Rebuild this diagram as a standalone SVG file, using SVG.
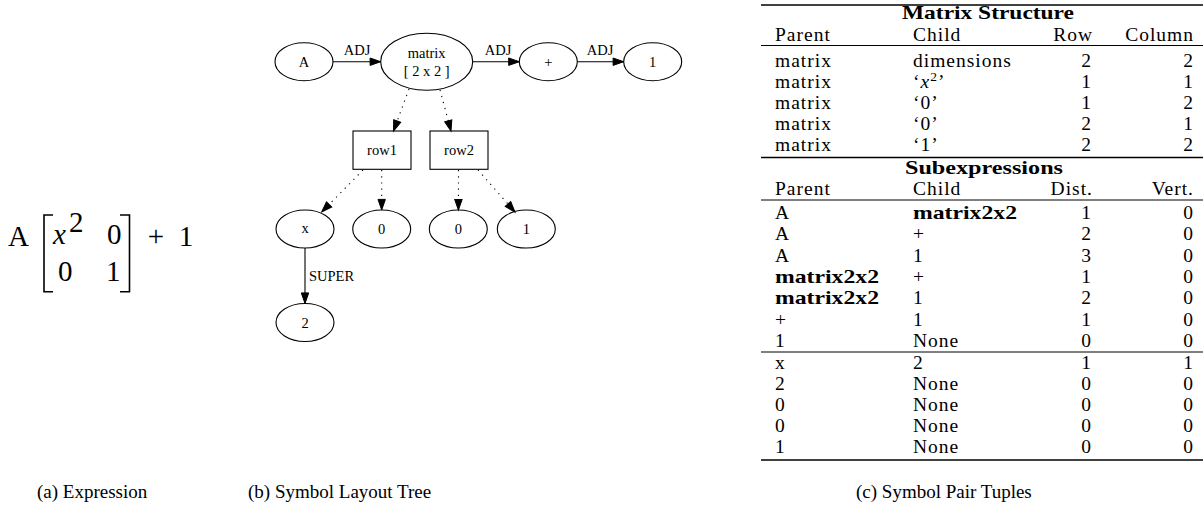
<svg xmlns="http://www.w3.org/2000/svg" width="1203" height="516" viewBox="0 0 1203 516">
  <defs>
    <marker id="arrow" markerUnits="userSpaceOnUse" markerWidth="12" markerHeight="10" refX="10.6" refY="5" orient="auto" overflow="visible">
      <path d="M0,1.3 L10.6,5 L0,8.7 Z" fill="#000" stroke="#000" stroke-width="1"/>
    </marker>
    <style>
      .shape { fill: none; stroke: #000; stroke-width: 1.1; }
      .lbl { font-family: "Liberation Serif", "Times New Roman", serif; font-size: 14.5px; fill: #000; }
      .mid { text-anchor: middle; }
      .end { text-anchor: end; }
      .edge { stroke: #000; stroke-width: 1.1; fill: none; }
      .dot { stroke-dasharray: 1.2 5; }
      .math { font-family: "Liberation Serif", "Times New Roman", serif; font-size: 29px; fill: #000; }
      .tab { font-family: "Liberation Serif", "Times New Roman", serif; font-size: 19.5px; letter-spacing: 1px; fill: #000; }
      .bold { font-weight: bold; letter-spacing: 0; }
      .cap { font-family: "Liberation Serif", "Times New Roman", serif; font-size: 19px; fill: #000; }
      .thick { stroke: #000; stroke-width: 1.7; }
      .thin { stroke: #000; stroke-width: 1; }
    </style>
  </defs>

  <!-- (a) the expression -->
  <g id="expression">
    <text class="math" x="8" y="246">A</text>
    <path d="M53,215 H44 V291.7 H53" fill="none" stroke="#000" stroke-width="1.6"/>
    <text class="math" x="53" y="244" font-style="italic">x</text>
    <text class="math" x="69" y="232" font-size="20">2</text>
    <text class="math" x="107" y="244">0</text>
    <text class="math" x="58" y="281">0</text>
    <text class="math" x="106" y="281">1</text>
    <path d="M120,215 H129.5 V291.7 H120" fill="none" stroke="#000" stroke-width="1.6"/>
    <text class="math mid" x="156" y="246">+</text>
    <text class="math mid" x="186" y="246">1</text>
  </g>

  <!-- (b) symbol layout tree: connectors -->
  <g id="connectors">
    <line class="edge" x1="333" y1="61.7" x2="380.7" y2="61.7" marker-end="url(#arrow)"/>
    <text class="lbl mid" x="357" y="54.5">ADJ</text>
    <line class="edge" x1="472.7" y1="61.7" x2="519.3" y2="61.7" marker-end="url(#arrow)"/>
    <text class="lbl mid" x="498" y="54.5">ADJ</text>
    <line class="edge" x1="577.3" y1="61.7" x2="623.7" y2="61.7" marker-end="url(#arrow)"/>
    <text class="lbl mid" x="600" y="54.5">ADJ</text>

    <line class="edge dot" x1="409" y1="89" x2="393.5" y2="131" marker-end="url(#arrow)"/>
    <line class="edge dot" x1="440" y1="90" x2="451" y2="131" marker-end="url(#arrow)"/>

    <line class="edge dot" x1="363" y1="170" x2="321.7" y2="212" marker-end="url(#arrow)"/>
    <line class="edge dot" x1="381.7" y1="170" x2="381.7" y2="210" marker-end="url(#arrow)"/>
    <line class="edge dot" x1="458.5" y1="170" x2="458.4" y2="210" marker-end="url(#arrow)"/>
    <line class="edge dot" x1="478" y1="170" x2="515" y2="212" marker-end="url(#arrow)"/>

    <line class="edge" x1="305" y1="248" x2="305" y2="303.5" marker-end="url(#arrow)"/>
    <text class="lbl" x="309" y="281">SUPER</text>
  </g>

  <!-- (b) symbol layout tree: nodes -->
  <g id="node-A">
    <ellipse class="shape" cx="304" cy="61.7" rx="29" ry="19"/>
    <text class="lbl mid" x="304" y="66.5">A</text>
  </g>
  <g id="node-matrix">
    <ellipse class="shape" cx="426.7" cy="61.7" rx="46" ry="28.5"/>
    <text class="lbl mid" x="426.7" y="57.5">matrix</text>
    <text class="lbl mid" x="426.7" y="76">[ 2 x 2 ]</text>
  </g>
  <g id="node-plus">
    <ellipse class="shape" cx="548.3" cy="61.7" rx="29" ry="19"/>
    <text class="lbl mid" x="548.3" y="66.5">+</text>
  </g>
  <g id="node-one">
    <ellipse class="shape" cx="652.7" cy="61.7" rx="29" ry="19"/>
    <text class="lbl mid" x="652.7" y="66.5">1</text>
  </g>
  <g id="node-row1">
    <rect class="shape" x="353" y="131" width="58" height="38.3"/>
    <text class="lbl mid" x="382" y="155">row1</text>
  </g>
  <g id="node-row2">
    <rect class="shape" x="430" y="131" width="58" height="38.3"/>
    <text class="lbl mid" x="459" y="155">row2</text>
  </g>
  <g id="node-x">
    <ellipse class="shape" cx="305" cy="229" rx="29" ry="19"/>
    <text class="lbl mid" x="305" y="233">x</text>
  </g>
  <g id="node-zero-a">
    <ellipse class="shape" cx="381.7" cy="229" rx="29" ry="19"/>
    <text class="lbl mid" x="381.7" y="234">0</text>
  </g>
  <g id="node-zero-b">
    <ellipse class="shape" cx="458.3" cy="229" rx="29" ry="19"/>
    <text class="lbl mid" x="458.3" y="234">0</text>
  </g>
  <g id="node-one-b">
    <ellipse class="shape" cx="526.3" cy="229" rx="29" ry="19"/>
    <text class="lbl mid" x="526.3" y="234">1</text>
  </g>
  <g id="node-two">
    <ellipse class="shape" cx="305" cy="322.5" rx="29" ry="19"/>
    <text class="lbl mid" x="305" y="327.5">2</text>
  </g>

  <!-- (c) symbol pair tuples table -->
  <g id="table">
    <line class="thick" x1="761" y1="5" x2="1203" y2="5"/>
    <text class="tab bold" x="902" y="18.5" textLength="172" lengthAdjust="spacingAndGlyphs">Matrix Structure</text>
    <text class="tab" x="775" y="40.5">Parent</text>
    <text class="tab" x="913" y="40.5">Child</text>
    <text class="tab end" x="1093" y="40.5">Row</text>
    <text class="tab end" x="1194" y="40.5">Column</text>
    <line class="thin" x1="761" y1="45.5" x2="1203" y2="45.5"/>

    <text class="tab" x="775" y="67">matrix</text><text class="tab" x="913" y="67">dimensions</text><text class="tab end" x="1092" y="67">2</text><text class="tab end" x="1194" y="67">2</text>
    <text class="tab" x="775" y="88">matrix</text><text class="tab" x="913" y="88">‘<tspan font-style="italic">x</tspan><tspan dy="-7" font-size="13.5">2</tspan><tspan dy="7">’</tspan></text><text class="tab end" x="1092" y="88">1</text><text class="tab end" x="1194" y="88">1</text>
    <text class="tab" x="775" y="109">matrix</text><text class="tab" x="913" y="109">‘0’</text><text class="tab end" x="1092" y="109">1</text><text class="tab end" x="1194" y="109">2</text>
    <text class="tab" x="775" y="130">matrix</text><text class="tab" x="913" y="130">‘0’</text><text class="tab end" x="1092" y="130">2</text><text class="tab end" x="1194" y="130">1</text>
    <text class="tab" x="775" y="151">matrix</text><text class="tab" x="913" y="151">‘1’</text><text class="tab end" x="1092" y="151">2</text><text class="tab end" x="1194" y="151">2</text>
    <line class="thick" x1="761" y1="157.5" x2="1203" y2="157.5"/>

    <text class="tab bold" x="905" y="174" textLength="158" lengthAdjust="spacingAndGlyphs">Subexpressions</text>
    <text class="tab" x="775" y="195">Parent</text>
    <text class="tab" x="913" y="195">Child</text>
    <text class="tab end" x="1093" y="195">Dist.</text>
    <text class="tab end" x="1194" y="195">Vert.</text>
    <line class="thin" x1="761" y1="200" x2="1203" y2="200"/>

    <text class="tab" x="775" y="219">A</text><text class="tab bold" x="913" y="219" textLength="104" lengthAdjust="spacingAndGlyphs">matrix2x2</text><text class="tab end" x="1092" y="219">1</text><text class="tab end" x="1194" y="219">0</text>
    <text class="tab" x="775" y="240.3">A</text><text class="tab" x="913" y="240.3">+</text><text class="tab end" x="1092" y="240.3">2</text><text class="tab end" x="1194" y="240.3">0</text>
    <text class="tab" x="775" y="261.6">A</text><text class="tab" x="913" y="261.6">1</text><text class="tab end" x="1092" y="261.6">3</text><text class="tab end" x="1194" y="261.6">0</text>
    <text class="tab bold" x="775" y="282.9" textLength="104" lengthAdjust="spacingAndGlyphs">matrix2x2</text><text class="tab" x="913" y="282.9">+</text><text class="tab end" x="1092" y="282.9">1</text><text class="tab end" x="1194" y="282.9">0</text>
    <text class="tab bold" x="775" y="304.2" textLength="104" lengthAdjust="spacingAndGlyphs">matrix2x2</text><text class="tab" x="913" y="304.2">1</text><text class="tab end" x="1092" y="304.2">2</text><text class="tab end" x="1194" y="304.2">0</text>
    <text class="tab" x="775" y="325.5">+</text><text class="tab" x="913" y="325.5">1</text><text class="tab end" x="1092" y="325.5">1</text><text class="tab end" x="1194" y="325.5">0</text>
    <text class="tab" x="775" y="346.8">1</text><text class="tab" x="913" y="346.8">None</text><text class="tab end" x="1092" y="346.8">0</text><text class="tab end" x="1194" y="346.8">0</text>
    <line class="thin" x1="761" y1="352" x2="1203" y2="352"/>

    <text class="tab" x="775" y="369">x</text><text class="tab" x="913" y="369">2</text><text class="tab end" x="1092" y="369">1</text><text class="tab end" x="1194" y="369">1</text>
    <text class="tab" x="775" y="390">2</text><text class="tab" x="913" y="390">None</text><text class="tab end" x="1092" y="390">0</text><text class="tab end" x="1194" y="390">0</text>
    <text class="tab" x="775" y="411">0</text><text class="tab" x="913" y="411">None</text><text class="tab end" x="1092" y="411">0</text><text class="tab end" x="1194" y="411">0</text>
    <text class="tab" x="775" y="432">0</text><text class="tab" x="913" y="432">None</text><text class="tab end" x="1092" y="432">0</text><text class="tab end" x="1194" y="432">0</text>
    <text class="tab" x="775" y="453">1</text><text class="tab" x="913" y="453">None</text><text class="tab end" x="1092" y="453">0</text><text class="tab end" x="1194" y="453">0</text>
    <line class="thick" x1="761" y1="460" x2="1203" y2="460"/>
  </g>

  <!-- sub-figure captions -->
  <g id="captions">
    <text class="cap" x="37" y="498">(a) Expression</text>
    <text class="cap" x="248" y="498">(b) Symbol Layout Tree</text>
    <text class="cap" x="856" y="498">(c) Symbol Pair Tuples</text>
  </g>
</svg>
